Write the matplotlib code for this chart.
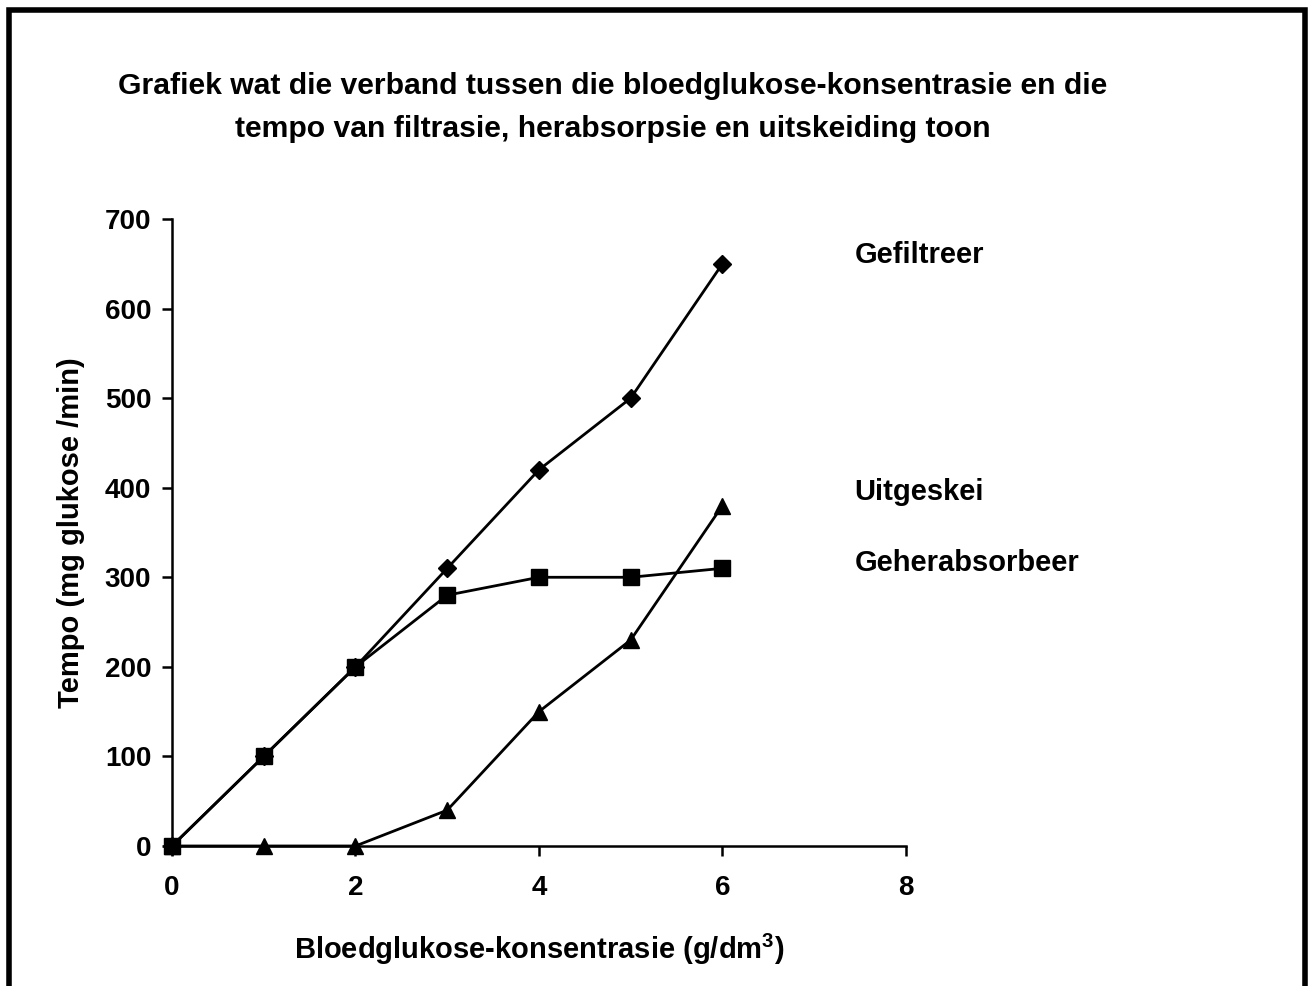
import matplotlib.pyplot as plt
from matplotlib.patches import Rectangle

plt.rcParams['font.family'] = ['Liberation Sans', 'DejaVu Sans']
plt.rcParams['font.weight'] = 'bold'
plt.rcParams['mathtext.fontset'] = 'custom'
plt.rcParams['mathtext.rm'] = 'Liberation Sans'
plt.rcParams['mathtext.bf'] = 'Liberation Sans:bold'

konsentrasie = [0, 1, 2, 3, 4, 5, 6]
gefiltreer = [0, 100, 200, 310, 420, 500, 650]
geherabsorbeer = [0, 100, 200, 280, 300, 300, 310]
uitgeskei = [0, 0, 0, 40, 150, 230, 380]

fig = plt.figure(figsize=(13.12, 9.86), dpi=100)
ax = fig.add_axes([0.1311, 0.1420, 0.5594, 0.6359])

ax.plot(konsentrasie, gefiltreer, color='k', lw=2.0, marker='D', ms=9, clip_on=False)
ax.plot(konsentrasie, uitgeskei, color='k', lw=2.0, marker='^', ms=11, clip_on=False)
ax.plot(konsentrasie, geherabsorbeer, color='k', lw=2.0, marker='s', ms=11, clip_on=False)

# series labels
ax.text(7.44, 660, 'Gefiltreer', fontsize=21, fontweight='bold', va='center', clip_on=False)
ax.text(7.44, 395, 'Uitgeskei', fontsize=21, fontweight='bold', va='center', clip_on=False)
ax.text(7.44, 316, 'Geherabsorbeer', fontsize=21, fontweight='bold', va='center', clip_on=False)

ax.set_xlim(0, 8)
ax.set_ylim(0, 700)
ax.set_xticks([0, 2, 4, 6, 8])
ax.set_yticks(range(0, 701, 100))
for s in ['top', 'right']:
    ax.spines[s].set_visible(False)
for s in ['left', 'bottom']:
    ax.spines[s].set_linewidth(1.8)
ax.tick_params(direction='out', length=7, width=1.8, labelsize=20)
ax.tick_params(axis='y', pad=8)
ax.tick_params(axis='x', pad=14)
for lab in ax.get_xticklabels() + ax.get_yticklabels():
    lab.set_fontweight('bold')

ax.set_xlabel('Bloedglukose-konsentrasie (g/dm$^{\\mathbf{3}}$)', fontsize=21, fontweight='bold', labelpad=22)
ax.set_ylabel('Tempo (mg glukose /min)', fontsize=21, fontweight='bold', labelpad=14)

fig.text(0.467, 0.891, 'Grafiek wat die verband tussen die bloedglukose-konsentrasie en die\n'
         'tempo van filtrasie, herabsorpsie en uitskeiding toon',
         ha='center', va='center', fontsize=21.7, fontweight='bold', linespacing=1.64)

# frame around the figure
fig.patches.append(Rectangle((0.007, -0.05), 0.988, 1.04, transform=fig.transFigure,
                             fill=False, edgecolor='k', lw=4))

fig.savefig('out.png', dpi=100)
